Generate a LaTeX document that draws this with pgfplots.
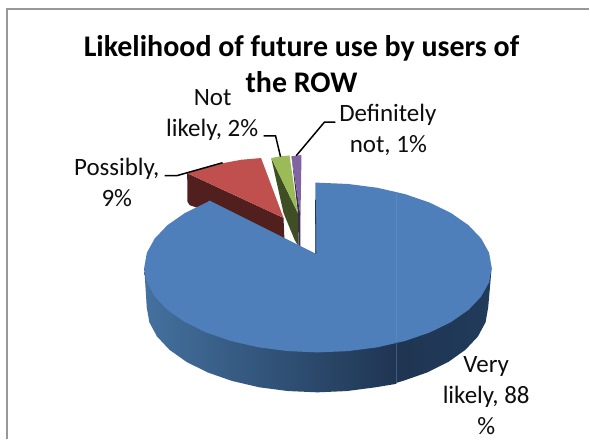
\documentclass[border=0pt]{standalone}
\usepackage{pgfplots}
\pgfplotsset{compat=1.18}
\usepackage{fontspec}
\setmainfont{Carlito}
\definecolor{pieblue}{HTML}{4F7FBB}
\definecolor{pieseam}{HTML}{5D88BF}
\definecolor{rimseam}{HTML}{3A5A80}
\definecolor{sideL}{HTML}{44719F}
\definecolor{sideM}{HTML}{1F3552}
\definecolor{sideR}{HTML}{213B5B}
\definecolor{piered}{HTML}{C0504D}
\definecolor{redside}{HTML}{501F1E}
\definecolor{piegreen}{HTML}{9BBB59}
\definecolor{greenside}{HTML}{3F4E23}
\definecolor{piepurple}{HTML}{8064A2}
\definecolor{purpleside}{HTML}{3B2D4F}
\definecolor{frame}{HTML}{989898}
\pgfplotsset{
  face/.style={draw=none,fill=#1,no markers},
  leader/.style={black,line width=1.5pt,no markers},
}
\newcommand{\lab}[3]{\node[anchor=base,inner sep=0pt,font=\fontsize{25}{25}\selectfont,text=black!95] at (axis cs:#1,#2) {#3};}
\newcommand{\ttl}[3]{\node[anchor=base,inner sep=0pt,font=\fontsize{30}{30}\selectfont\bfseries] at (axis cs:#1,#2) {#3};}
\begin{document}
\begin{tikzpicture}
\fill[white] (0,0) rectangle (590pt,440pt);
\begin{axis}[
  at={(0,0)},anchor=south west,
  scale only axis,width=590pt,height=440pt,
  xmin=0,xmax=590,ymin=0,ymax=440,y dir=reverse,
  hide axis,clip=false]

% chart frame
\addplot[frame,line width=2pt,no markers] coordinates {(7,440) (7,9.5) (590,9.5)};

% Possibly, 9%: side wall and top face
\addplot[face=redside] coordinates {(187.5,173.5) (284,218.3) (285,242) (250,226) (196,207.5) (190,205.5) (187.8,202)} -- cycle;
\addplot[face=piered] coordinates {(187.5,173.5) (205,168.5) (223,163.5) (242,160) (261.5,158.3) (284,218.3)} -- cycle;

% Not likely, 2%
\addplot[face=greenside] coordinates {(271.7,158.3) (298.3,213.3) (298.6,246) (295,240) (284,213.3)} -- cycle;
\addplot[face=piegreen] coordinates {(271.7,158.3) (281,156.6) (290,155.7) (298.3,213.3)} -- cycle;

% Definitely not, 1%
\addplot[face=purpleside] coordinates {(292,156.5) (301,216) (301,247) (299,247) (298.4,213)} -- cycle;
\addplot[face=piepurple] coordinates {(292,156.5) (302,155.3) (301,216)} -- cycle;

% Very likely, 88%: shaded rim, left and right of the seam
\addplot[draw=none,left color=sideL,right color=sideM,no markers] coordinates {
  (397,300) (397,384.5) (376.5,387.9) (347.7,391.7) (318,393) (288.3,391.7) (259.5,387.9)
  (232.5,381.6) (208.1,373.1) (187,362.6) (169.9,350.5) (157.3,337.1) (149.6,322.8)
  (147,308) (144.5,268)} -- cycle;
\addplot[draw=none,left color=sideM,right color=sideR,no markers] coordinates {
  (492.5,268) (489,308) (486.4,322.8) (478.7,337.1) (466.1,350.5) (449,362.6)
  (427.9,373.1) (403.5,381.6) (397,383.5) (397,300)} -- cycle;

% top face of the large slice
\addplot[face=pieblue] coordinates {
  (492.5,268) (489.9,282.8) (482,297.1) (469.2,310.5) (451.8,322.6) (430.3,333.1)
  (405.5,341.6) (378,347.9) (348.7,351.7) (318.5,353) (288.3,351.7) (259,347.9)
  (231.5,341.6) (206.7,333.1) (185.2,322.6) (167.8,310.5) (155,297.1) (147.1,282.8)
  (144.5,268) (147.1,253.2) (155,238.9) (167.8,225.5) (185.2,213.4) (206.7,202.9)
  (210,201) (316,254) (316,183) (318.5,183) (348.7,184.3) (378,188.1) (405.5,194.4)
  (430.3,202.9) (451.8,213.4) (469.2,225.5) (482,238.9) (489.9,253.2)} -- cycle;
\addplot[sideM,line width=0.8pt,no markers] coordinates {(316,200) (316.4,254)};
\addplot[pieseam,line width=0.5pt,no markers] coordinates {(397,192) (397,343)};
\addplot[rimseam,line width=0.5pt,no markers] coordinates {(397,343) (397,384)};

% leader lines
\addplot[leader] coordinates {(165,176) (177,176) (223,163)};
\addplot[leader] coordinates {(264,136) (276,136) (281,157)};
\addplot[leader] coordinates {(336,122.3) (325,122.3) (296.7,156)};

% title and data labels
\ttl{302}{57}{Likelihood of future use by users of}
\ttl{302}{92.6}{the ROW}
\lab{117}{176}{Possibly,}
\lab{117}{206.7}{9\%}
\lab{213}{106}{Not}
\lab{212.5}{136.7}{likely, 2\%}
\lab{388.5}{121.7}{Definitely}
\lab{389}{152.7}{not, 1\%}
\lab{487}{373.3}{Very}
\lab{487}{404}{likely, 88}
\lab{487}{435}{\%}
\end{axis}
\end{tikzpicture}
\end{document}
